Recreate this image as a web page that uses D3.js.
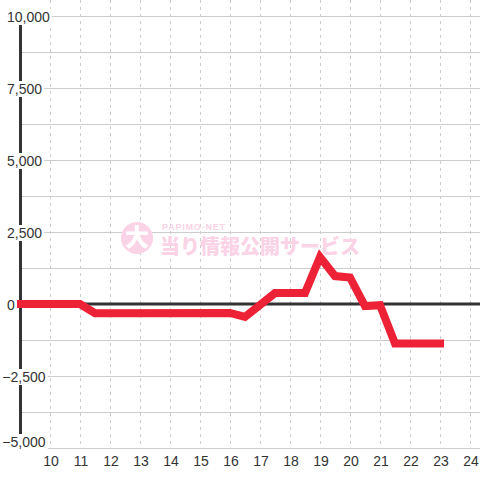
<!DOCTYPE html>
<html><head><meta charset="utf-8">
<script src="https://cdn.jsdelivr.net/npm/d3@7"></script>
<style>body{margin:0;background:#fff}svg{display:block}</style>
</head><body>
<svg id="c" width="480" height="480"></svg>
<script>
const hours  = [9, 11, 11.5, 16, 16.5, 17.5, 18.5, 19, 19.5, 20, 20.5, 21, 21.5, 23];
const values = [0, 0, -320, -310, -450, 380, 380, 1630, 970, 920, -70, -40, -1370, -1370];
const xTicks = [10,11,12,13,14,15,16,17,18,19,20,21,22,23,24];
const yTicks = [10000, 7500, 5000, 2500, 0, -2500, -5000];
const yGrid  = d3.range(-5000, 10001, 1250);

const svg = d3.select("#c");
const W = 480, H = 480;
const x = d3.scaleLinear().domain([9, 24]).range([20, 470]);
const y = d3.scaleLinear().domain([-5000, 10000]).range([448, 16]);
const font = "'Liberation Sans', Arial, sans-serif";

// horizontal gridlines
svg.append("g").selectAll("line").data(yGrid).join("line")
  .attr("x1", x(9)).attr("x2", W)
  .attr("y1", d => y(d)).attr("y2", d => y(d))
  .attr("stroke", "#cccccc").attr("stroke-width", 1).attr("shape-rendering","crispEdges");

// vertical dashed gridlines
svg.append("g").selectAll("line").data(xTicks).join("line")
  .attr("x1", d => x(d)).attr("x2", d => x(d))
  .attr("y1", 0).attr("y2", y(-5000))
  .attr("stroke", "#cccccc").attr("stroke-width", 1)
  .attr("stroke-dasharray", "3,4").attr("shape-rendering","crispEdges");

// watermark
const wm = svg.append("g");
wm.append("circle").attr("cx", 137).attr("cy", 238).attr("r", 16).attr("fill", "#fbd3e6");
wm.append("text").attr("x", 137).attr("y", 246).attr("text-anchor","middle")
  .attr("font-family","'Noto Sans CJK JP'").attr("font-weight","900").attr("font-size", 24)
  .attr("fill","#fff").text("大");
wm.append("text").attr("x", 162).attr("y", 230)
  .attr("font-family", font).attr("font-weight","bold").attr("font-size", 9).attr("letter-spacing", 0.8)
  .attr("fill","#fbd3e6").text("PAPIMO-NET");
wm.append("text").attr("x", 160).attr("y", 254)
  .attr("font-family","'Noto Sans CJK JP'").attr("font-weight","900").attr("font-size", 20)
  .attr("fill","#fbd3e6").text("当り情報公開サービス");

// y axis line
svg.append("line").attr("x1", 20.5).attr("x2", 20.5)
  .attr("y1", y(10000)).attr("y2", y(-5000))
  .attr("stroke", "#333").attr("stroke-width", 3);

// zero line
svg.append("line").attr("x1", x(9)).attr("x2", W)
  .attr("y1", y(0)).attr("y2", y(0))
  .attr("stroke", "#333").attr("stroke-width", 3);

// data line
const data = hours.map((h, i) => [h, values[i]]);
svg.append("path").datum(data)
  .attr("d", d3.line().x(d => x(d[0])).y(d => y(d[1])))
  .attr("fill", "none").attr("stroke", "#ee2236").attr("stroke-width", 8)
  .attr("stroke-linecap", "square").attr("stroke-linejoin", "miter");

// y labels with white background
const yl = svg.append("g");
yTicks.forEach(v => {
  const g = yl.append("g");
  let cy = y(v) + 1;
  if (v === -5000) cy = y(v) - 6;
  const t = g.append("text")
    .attr("x", v < 0 ? 2.3 : 7).attr("y", cy).attr("dy", "0.35em")
    .attr("font-family", font).attr("font-size", 14).attr("fill", "#333")
    .text(d3.format(",")(v));
  const b = t.node().getBBox();
  g.insert("rect", "text").attr("x", b.x - 1).attr("y", cy - 8)
    .attr("width", b.width + 3).attr("height", 16).attr("fill", "#fff");
});

// x labels
svg.append("g").selectAll("text").data(xTicks).join("text")
  .attr("x", d => x(d) + 1).attr("y", 461).attr("dy", "0.35em")
  .attr("text-anchor", "middle")
  .attr("font-family", font).attr("font-size", 14).attr("fill", "#333")
  .text(d => d);
</script>
</body></html>
